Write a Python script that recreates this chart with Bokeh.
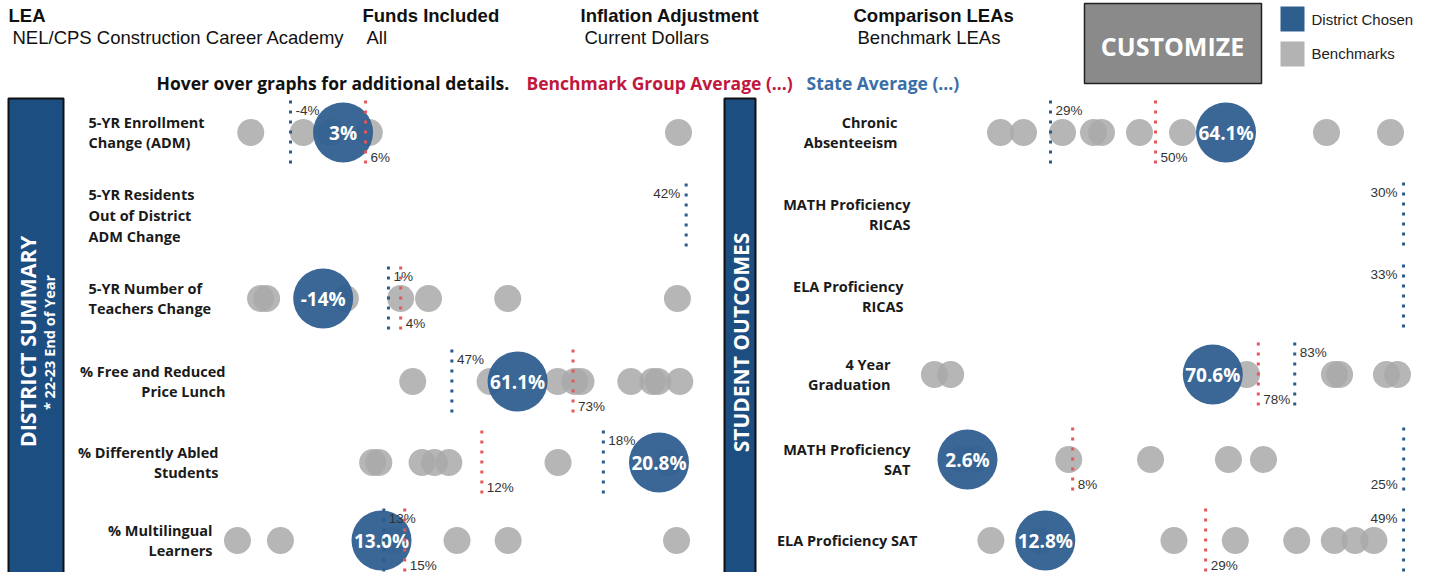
import math
from bokeh.plotting import figure
from bokeh.models import Range1d
from bokeh.embed import file_html
from bokeh.resources import INLINE
from bokeh.core.properties import value

# ---------------- data ----------------
left_lines = [["5-YR Enrollment", "Change (ADM)"],
              ["5-YR Residents", "Out of District", "ADM Change"],
              ["5-YR Number of", "Teachers Change"],
              ["% Free and Reduced", "Price Lunch"],
              ["% Differently Abled", "Students"],
              ["% Multilingual", "Learners"]]
left_district = [3, None, -14, 61.1, 20.8, 13.0]
left_state = [-4, 42, 1.0, 47, 18.1, 13.2]
left_bench = [6, None, 3.8, 73, 12.2, 15.0]
left_peers = [[-9.3, -2.3, 1.3, 6.5, 47.7],
              [],
              [-28.4, -27.0, -8.9, 3.8, 10.2, 28.4, 67.4],
              [38.6, 55.2, 69.7, 73.4, 74.7, 85.4, 90.1, 91.2, 95.9],
              [6.9, 7.2, 9.3, 9.9, 10.6, 15.9, 21.3],
              [0.6, 4.3, 14.0, 19.5, 23.9, 38.4]]
left_domains = [(-12, 49.3), (0, 42.4), (-35.3, 70.4), (-0.5, 98.2), (0, 22.33), (0, 39.6)]
left_decimals = [0, 0, 0, 1, 1, 1]

right_lines = [["Chronic", "Absenteeism"],
               ["MATH Proficiency", "RICAS"],
               ["ELA Proficiency", "RICAS"],
               ["4 Year", "Graduation"],
               ["MATH Proficiency", "SAT"],
               ["ELA Proficiency SAT"]]
right_district = [64.1, None, None, 70.6, 2.6, 12.8]
right_state = [29, 30, 33, 83.2, 25, 49]
right_bench = [50, None, None, 77.6, 8, 29]
right_peers = [[19, 23.6, 31.4, 37.6, 39.2, 46.8, 55.4, 84.2, 97.0],
               [],
               [],
               [27.8, 30.3, 75.8, 89.3, 90.1, 97.3, 99.0],
               [2.3, 3.0, 7.8, 12.0, 16.0, 17.8],
               [7.3, 12.3, 25.8, 32.0, 38.2, 42.0, 44.1, 46.0]]
right_domains = [(5, 101), (0, 30.44), (0, 33.49), (27.2, 101), (0.7, 25.35), (1.2, 49.7)]
right_decimals = [1, 1, 1, 1, 1, 1]

header_titles = ["LEA", "Funds Included", "Inflation Adjustment", "Comparison LEAs"]
header_values = ["NEL/CPS Construction Career Academy", "All", "Current Dollars", "Benchmark LEAs"]
legend_labels = ["District Chosen", "Benchmarks"]

# ---------------- style ----------------
BLUE = "#2e5e8e"
GRAY = "#a9a9a9"
BAR = "#1d4e82"
STATE_C = "#2a5b8e"
BENCH_C = "#e4585b"
LABEL_FONT = value("Open Sans")
SANS = value("Liberation Sans")

W, H = 1416, 572

p = figure(width=W, height=H, output_backend="svg", toolbar_location=None,
           x_range=Range1d(0, W), y_range=Range1d(H, 0),
           x_axis_location=None, y_axis_location=None,
           min_border=0, min_border_left=0, min_border_right=0,
           min_border_top=0, min_border_bottom=0)
p.outline_line_color = None
p.grid.visible = False
p.background_fill_color = "white"
p.border_fill_color = "white"

# ---------------- header ----------------
hx_title = [8, 362, 580, 853]
hx_value = [12, 366, 584, 857]
p.text(x=hx_title, y=[15] * 4, text=header_titles, text_font=SANS, text_font_style="bold",
       text_font_size="18.5px", text_baseline="middle", text_color="#111111")
p.text(x=hx_value, y=[37] * 4, text=header_values, text_font=SANS,
       text_font_size="18.5px", text_baseline="middle", text_color="#111111")

p.quad(left=[1084], right=[1261], top=[3], bottom=[83], fill_color="#8a8a8a",
       line_color="#222222", line_width=1.5)
p.text(x=[1172], y=[45], text=["CUSTOMIZE"], text_font=LABEL_FONT, text_font_style="bold",
       text_font_size="25px", text_align="center", text_baseline="middle", text_color="white")

p.quad(left=[1280, 1280], right=[1304, 1304], top=[6, 41], bottom=[31, 66],
       fill_color=[BLUE, "#b3b3b3"], line_color=None)
p.text(x=[1311, 1311], y=[19, 53], text=legend_labels, text_font=SANS, text_font_size="15px",
       text_baseline="middle", text_color="#222222")

p.text(x=[156], y=[82], text=["Hover over graphs for additional details."], text_font=LABEL_FONT,
       text_font_style="bold", text_font_size="17.5px", text_baseline="middle", text_color="#111111")
p.text(x=[526], y=[82], text=["Benchmark Group Average (...)"], text_font=LABEL_FONT,
       text_font_style="bold", text_font_size="17.5px", text_baseline="middle", text_color="#c0173d")
p.text(x=[806], y=[82], text=["State Average (...)"], text_font=LABEL_FONT,
       text_font_style="bold", text_font_size="17.5px", text_baseline="middle", text_color="#3a6ea6")

# ---------------- side bars ----------------
p.quad(left=[8, 724], right=[63, 755], top=[98, 98], bottom=[590, 590], fill_color=BAR,
       line_color="#111111", line_width=2)
p.text(x=[27], y=[341], text=["DISTRICT SUMMARY"], angle=math.pi / 2, text_font=LABEL_FONT,
       text_font_style="bold", text_font_size="21.5px", text_align="center", text_baseline="middle",
       text_color="white")
p.text(x=[49], y=[342], text=["* 22-23 End of Year"], angle=math.pi / 2, text_font=LABEL_FONT,
       text_font_style="bold", text_font_size="14.5px", text_align="center", text_baseline="middle",
       text_color="white")
p.text(x=[740], y=[342], text=["STUDENT OUTCOMES"], angle=math.pi / 2, text_font=LABEL_FONT,
       text_font_style="bold", text_font_size="21px", text_align="center", text_baseline="middle",
       text_color="white")


def draw_panel(prefix, lines, district, state, bench, peers, domains, decimals,
               span, centers, label_x, label_align, state_pos, bench_pos):
    x0, x1 = span
    for i in range(len(lines)):
        lo, hi = domains[i]
        k = (hi - lo) / (x1 - x0)
        name = f"{prefix}{i}"
        p.extra_x_ranges[name] = Range1d(start=lo + (0 - x0) * k, end=lo + (W - x0) * k)
        c = centers[i]
        n = len(lines[i])
        step = 21 if n == 3 else 20
        ys = [c + (j - (n - 1) / 2) * step for j in range(n)]
        p.text(x=[label_x[i]] * n, y=ys, text=lines[i], text_align=label_align[i],
               text_baseline="middle", text_font=LABEL_FONT, text_font_style="bold",
               text_font_size="14.5px", text_color="#1a1a1a")
        if peers[i]:
            p.scatter(x=peers[i], y=[c] * len(peers[i]), size=27, marker="circle",
                      fill_color=GRAY, fill_alpha=0.85, line_color=None, x_range_name=name)
        if district[i] is not None:
            p.scatter(x=[district[i]], y=[c], size=60, marker="circle", fill_color=BLUE,
                      fill_alpha=0.94, line_color=None, x_range_name=name)
            p.text(x=[district[i]], y=[c], text=[f"{district[i]:.{decimals[i]}f}%"],
                   text_align="center", text_baseline="middle", text_font=LABEL_FONT,
                   text_font_style="bold", text_font_size="19px", text_color="white",
                   x_range_name=name)
        for val, pos, color in ((state[i], state_pos[i], STATE_C), (bench[i], bench_pos[i], BENCH_C)):
            if val is None:
                continue
            p.segment(x0=[val], y0=[c - 32], x1=[val], y1=[c + 32], line_color=color,
                      line_width=3, line_dash="3 7", x_range_name=name)
            side, vert = pos
            p.text(x=[val], y=[c - 22 if vert == "top" else c + 25], text=[f"{val:.0f}%"],
                   x_offset=5 if side == "right" else -6,
                   text_align="left" if side == "right" else "right", text_baseline="middle",
                   text_font=SANS, text_font_size="13.5px", text_color="#333333",
                   x_range_name=name)


draw_panel("L", left_lines, left_district, left_state, left_bench, left_peers, left_domains,
           left_decimals, span=(230, 690), centers=[132, 215, 298, 381, 462, 540],
           label_x=[88, 88, 88, 225, 218, 212],
           label_align=["left", "left", "left", "right", "right", "right"],
           state_pos=[("right", "top"), ("left", "top"), ("right", "top"), ("right", "top"),
                      ("right", "top"), ("right", "top")],
           bench_pos=[("right", "bottom")] * 6)

draw_panel("R", right_lines, right_district, right_state, right_bench, right_peers, right_domains,
           right_decimals, span=(930, 1410), centers=[132, 214, 296, 374, 459, 540],
           label_x=[897, 910, 903, 890, 910, 917],
           label_align=["right"] * 6,
           state_pos=[("right", "top"), ("left", "top"), ("left", "top"), ("right", "top"),
                      ("left", "bottom"), ("left", "top")],
           bench_pos=[("right", "bottom")] * 6)

open("out.html", "w").write(file_html(p, INLINE))
